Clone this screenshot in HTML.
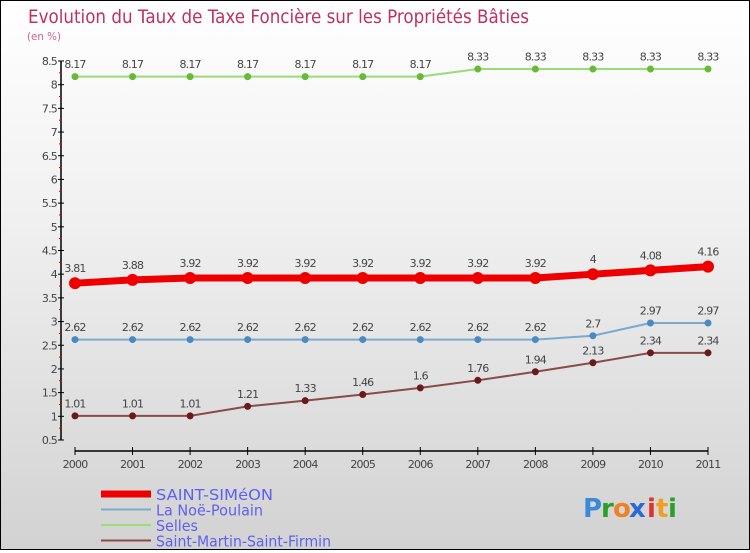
<!DOCTYPE html>
<html><head><meta charset="utf-8"><style>
html,body{margin:0;padding:0}
body{width:750px;height:550px;overflow:hidden;font-family:"DejaVu Sans","Liberation Sans",sans-serif}
#wrap{position:relative;width:748px;height:548px;border:1px solid #000;background:linear-gradient(#ffffff 0%,#f0f0f0 40%,#d2d2d2 100%)}
svg text{font-family:"DejaVu Sans","Liberation Sans",sans-serif}
</style></head><body>
<div id="wrap">
<svg id="chart" width="748" height="548">
<text x="27" y="22" font-size="19" fill="#c03060" textLength="501" lengthAdjust="spacingAndGlyphs">Evolution du Taux de Taxe Foncière sur les Propriétés Bâties</text>
<text x="26" y="39" font-size="11" fill="#d06090" textLength="34" lengthAdjust="spacingAndGlyphs">(en %)</text>
<g id="axes"></g>
<g id="series"></g>
<g id="legend"></g>
<g font-size="26" font-family="DejaVu Sans" font-weight="bold">
<text x="582" y="516" fill="#3a8ad8">P</text><text x="600" y="516" fill="#2aa02a">r</text><text x="612" y="516" fill="#f08020">o</text><text x="628" y="516" fill="#2a6ad8">x</text><text x="646" y="516" fill="#e03030">i</text><text x="655" y="516" fill="#f0a020">t</text><text x="667" y="516" fill="#2aa02a">i</text>
</g>
</svg>
</div>
<script>
const years=[2000,2001,2002,2003,2004,2005,2006,2007,2008,2009,2010,2011];
const yTicks=[0.5,1,1.5,2,2.5,3,3.5,4,4.5,5,5.5,6,6.5,7,7.5,8,8.5];
const saintSimeon=[3.81,3.88,3.92,3.92,3.92,3.92,3.92,3.92,3.92,4,4.08,4.16];
const laNoePoulain=[2.62,2.62,2.62,2.62,2.62,2.62,2.62,2.62,2.62,2.7,2.97,2.97];
const selles=[8.17,8.17,8.17,8.17,8.17,8.17,8.17,8.33,8.33,8.33,8.33,8.33];
const saintMartin=[1.01,1.01,1.01,1.21,1.33,1.46,1.6,1.76,1.94,2.13,2.34,2.34];
const labelsSS=["3.81","3.88","3.92","3.92","3.92","3.92","3.92","3.92","3.92","4","4.08","4.16"];
const labelsLN=["2.62","2.62","2.62","2.62","2.62","2.62","2.62","2.62","2.62","2.7","2.97","2.97"];
const labelsSE=["8.17","8.17","8.17","8.17","8.17","8.17","8.17","8.33","8.33","8.33","8.33","8.33"];
const labelsSM=["1.01","1.01","1.01","1.21","1.33","1.46","1.6","1.76","1.94","2.13","2.34","2.34"];
const NS="http://www.w3.org/2000/svg";
const x0=74,x1=707,yTop=60,yBot=439,vMin=0.5,vMax=8.5;
function xs(i){return x0+(x1-x0)*i/(years.length-1);}
function ys(v){return yBot-(v-vMin)/(vMax-vMin)*(yBot-yTop);}
function mk(tag,attrs,parent){const e=document.createElementNS(NS,tag);for(const k in attrs)e.setAttribute(k,attrs[k]);parent.appendChild(e);return e;}
const axes=document.getElementById('axes');
const ya=mk('line',{x1:60,y1:yTop,x2:60,y2:yBot,stroke:'#000','stroke-width':1.5},axes);


yTicks.forEach(v=>{
 const y=ys(v);
 mk('line',{x1:57,y1:y,x2:63,y2:y,stroke:'#000'},axes);
 const t=mk('text',{x:56,y:y+4,'font-size':11,fill:'#444','text-anchor':'end','letter-spacing':'-0.8'},axes);
 t.textContent=String(v);
 
 
 if(v<vMax) mk('line',{x1:58,y1:ys(v+0.25),x2:61,y2:ys(v+0.25),stroke:'#e00000'},axes);
});
const xa=mk('line',{x1:x0,y1:450,x2:x1,y2:450,stroke:'#000','stroke-width':1.5},axes);


years.forEach((yr,i)=>{
 mk('line',{x1:xs(i),y1:446,x2:xs(i),y2:454,stroke:'#000'},axes);
 const t=mk('text',{x:xs(i),y:467,'font-size':11,fill:'#444','text-anchor':'middle','letter-spacing':'-0.8'},axes);
 t.textContent=String(yr);
 
 
});
const series=document.getElementById('series');
function draw(vals,labels,color,dot,w,r,name){
 const g=mk('g',{},series);
 
 
 mk('polyline',{points:vals.map((v,i)=>xs(i)+','+ys(v)).join(' '),fill:'none',stroke:color,'stroke-width':w,'stroke-linejoin':'round'},g);
 vals.forEach((v,i)=>{
  const c=mk('circle',{cx:xs(i),cy:ys(v),r:r,fill:dot},g);
  
  
  const t=mk('text',{x:xs(i),y:ys(v)-(r+5),'font-size':11,fill:'#444','text-anchor':'middle','letter-spacing':'-0.8'},g);
  t.textContent=labels[i];
  
  
 });
}
draw(selles,labelsSE,'#99dd77','#66bb33',2,3.5,'selles-series');
draw(laNoePoulain,labelsLN,'#7aaad0','#4a8ac0',2,3.5,'la-noe-poulain-series');
draw(saintMartin,labelsSM,'#8a4a4a','#6a1a1a',2,3.5,'saint-martin-series');
draw(saintSimeon,labelsSS,'#ee0000','#ee0000',7,6,'saint-simeon-series');
const legend=document.getElementById('legend');
const lg=[["SAINT-SIMéON","#ee0000",7,117],["La Noë-Poulain","#7aaad0",2,107],["Selles","#99dd77",2,42],["Saint-Martin-Saint-Firmin","#8a4a4a",2,175]];
lg.forEach((e,i)=>{
 const y=493+i*15.5;
 const g=mk('g',{},legend);
 
 
 mk('line',{x1:100,y1:y,x2:150,y2:y,stroke:e[1],'stroke-width':e[2]},g);
 const t=mk('text',{x:155,y:y+6,'font-size':15,fill:'#6060ee',textLength:e[3],lengthAdjust:'spacingAndGlyphs'},g);
 t.textContent=e[0];
});
</script>
</body></html>
